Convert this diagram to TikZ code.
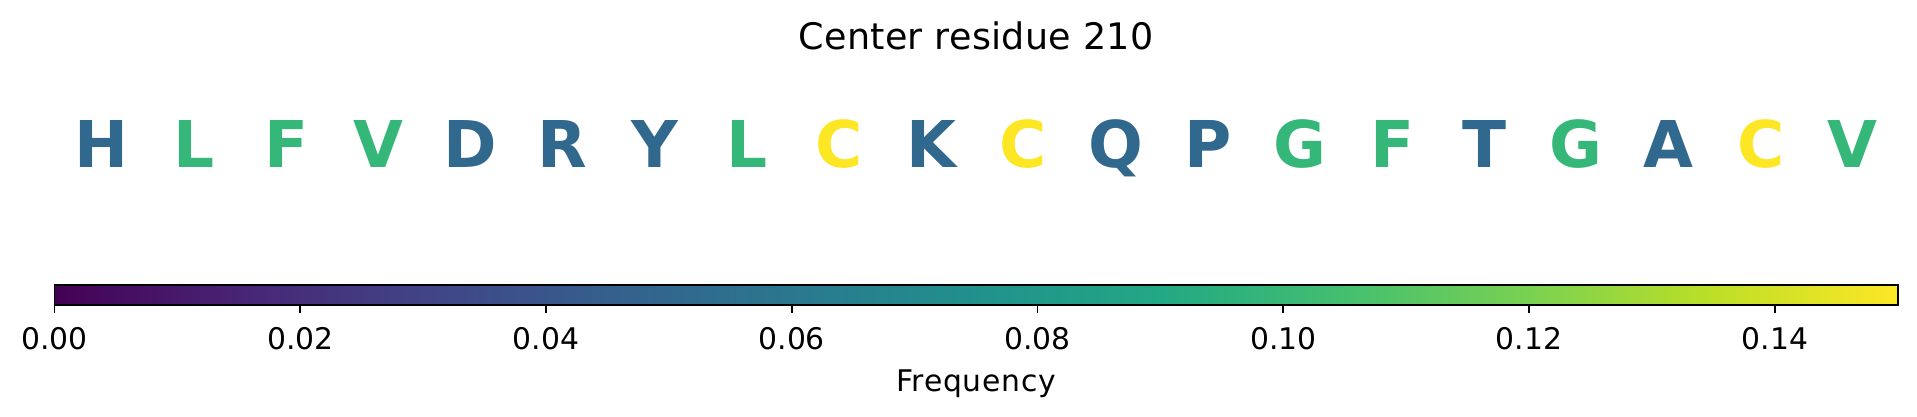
\documentclass[tikz,border=0pt]{standalone}
\usepackage{fontspec}
\setmainfont{DejaVu Sans}

\definecolor{lblue}{HTML}{31688E}
\definecolor{lgreen}{HTML}{35B779}
\definecolor{lyellow}{HTML}{FDE725}

% viridis stops
\definecolor{vir0}{HTML}{440154}
\definecolor{vir1}{HTML}{482475}
\definecolor{vir2}{HTML}{414487}
\definecolor{vir3}{HTML}{355F8D}
\definecolor{vir4}{HTML}{2A788E}
\definecolor{vir5}{HTML}{21918C}
\definecolor{vir6}{HTML}{22A884}
\definecolor{vir7}{HTML}{44BF70}
\definecolor{vir8}{HTML}{7AD151}
\definecolor{vir9}{HTML}{BDDF26}
\definecolor{vir10}{HTML}{FDE725}
\pgfdeclarehorizontalshading{viridis}{100bp}{color(0bp)=(vir0); color(25bp)=(vir0);
  color(30bp)=(vir1); color(35bp)=(vir2); color(40bp)=(vir3); color(45bp)=(vir4);
  color(50bp)=(vir5); color(55bp)=(vir6); color(60bp)=(vir7); color(65bp)=(vir8);
  color(70bp)=(vir9); color(75bp)=(vir10); color(100bp)=(vir10)}

\begin{document}
\begin{tikzpicture}[x=1pt,y=1pt]
	\tikzstyle{letter}=[font=\fontsize{64.5}{64.5}\selectfont\bfseries,anchor=base,inner sep=0pt]
	\tikzstyle{title}=[font=\fontsize{36.5}{36.5}\selectfont\addfontfeature{LetterSpace=0.8},anchor=base,inner sep=0pt]
	\tikzstyle{ticklabel}=[font=\fontsize{29.8}{29.8}\selectfont,anchor=base,inner sep=0pt]
	\tikzstyle{axislabel}=[ticklabel,font=\fontsize{29.8}{29.8}\selectfont\addfontfeature{LetterSpace=2.5}]
	\tikzstyle{bar}=[draw=black,line width=1.8pt]
	\tikzstyle{tick}=[draw=black,line width=1.8pt]

	\useasboundingbox (0,0) rectangle (1917,-416);

	\node [title] (title) at (976,-49.3) {Center residue 210};

	% sequence
	\foreach \l/\c [count=\i from 0] in {H/lblue,L/lgreen,F/lgreen,V/lgreen,D/lblue,R/lblue,Y/lblue,L/lgreen,C/lyellow,K/lblue,C/lyellow,Q/lblue,P/lblue,G/lgreen,F/lgreen,T/lblue,G/lgreen,A/lblue,C/lyellow,V/lgreen}
	  \node [letter,text=\c] (res\i) at ({101.7+92.17*\i},-167) {\l};

	% colour bar
	\coordinate (cbsw) at (54.5,-304.7);
	\coordinate (cbne) at (1897.7,-284.7);
	\shade [shading=viridis] (cbsw) rectangle (cbne);
	\path [bar] (cbsw) rectangle (cbne);

	\foreach \v [count=\i from 0] in {0.00,0.02,0.04,0.06,0.08,0.10,0.12,0.14} {
	  \coordinate (tick\i) at ({54.5+245.76*\i},-304.7);
	  \path [tick] (tick\i) -- ++(0,-8.5);
	  \node [ticklabel] (val\i) at ({54.5+245.76*\i},-349) {\v};
	}

	\node [axislabel] (freq) at (976,-391) {Frequency};

\end{tikzpicture}
\end{document}
